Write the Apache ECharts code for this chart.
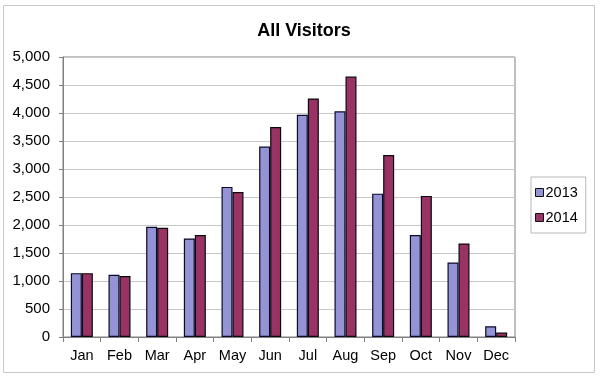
<!DOCTYPE html>
<html>
<head>
<meta charset="utf-8">
<script src="https://cdn.jsdelivr.net/npm/echarts@6/dist/echarts.min.js"></script>
<style>
  html, body { margin: 0; padding: 0; background: #fff; }
  #chart { width: 600px; height: 378px; }
</style>
</head>
<body>
<div id="chart"></div>
<script>
  var months = ['Jan', 'Feb', 'Mar', 'Apr', 'May', 'Jun', 'Jul', 'Aug', 'Sep', 'Oct', 'Nov', 'Dec']
  var visitors2013 = [1140, 1110, 1970, 1760, 2680, 3400, 3970, 4030, 2560, 1820, 1330, 190]
  var visitors2014 = [1140, 1090, 1950, 1820, 2590, 3750, 4260, 4650, 3250, 2520, 1670, 80]
  var yTicks = { min: 0, max: 5000, interval: 500 }

  var font = 'Liberation Sans, Arial, sans-serif'
  var myChart = echarts.init(document.getElementById('chart'))
  myChart.setOption({
    animation: false,
    title: {
      text: 'All Visitors',
      left: 299,
      textAlign: 'center',
      top: 17,
      textStyle: { fontFamily: font, fontSize: 18, fontWeight: 'bold', color: '#000' }
    },
    legend: {
      orient: 'vertical',
      left: 531,
      top: 177,
      padding: [8, 8, 8, 4],
      itemGap: 10,
      itemWidth: 8,
      itemHeight: 8,
      borderColor: '#b8b8b8',
      borderWidth: 1,
      textStyle: { fontFamily: font, fontSize: 14.5, color: '#000', padding: [0, 0, 0, -3] },
      data: [
        { name: '2013', icon: 'rect', itemStyle: { borderColor: '#111', borderWidth: 1 } },
        { name: '2014', icon: 'rect', itemStyle: { borderColor: '#111', borderWidth: 1 } }
      ]
    },
    graphic: [{
      type: 'rect',
      shape: { x: 3.5, y: 5.5, width: 591, height: 367 },
      style: { fill: 'none', stroke: '#c8c8c8', lineWidth: 1 },
      z: -1
    }],
    grid: {
      left: 63,
      right: 85,
      top: 57,
      bottom: 41,
      show: true,
      borderColor: '#808080',
      borderWidth: 1
    },
    xAxis: {
      type: 'category',
      data: months,
      axisLine: { lineStyle: { color: '#808080' } },
      axisTick: { show: true, length: 5, lineStyle: { color: '#808080' } },
      axisLabel: { fontFamily: font, fontSize: 14.5, color: '#000', margin: 11 }
    },
    yAxis: {
      type: 'value',
      min: yTicks.min,
      max: yTicks.max,
      interval: yTicks.interval,
      axisLine: { show: true, lineStyle: { color: '#808080' } },
      axisTick: { show: true, length: 4, lineStyle: { color: '#808080' } },
      splitLine: { lineStyle: { color: '#c8c8c8' } },
      axisLabel: {
        fontFamily: font,
        fontSize: 15,
        color: '#000',
        margin: 13,
        formatter: function (v) { return v.toLocaleString('en-US') }
      }
    },
    series: [{
      name: '2013',
      type: 'bar',
      data: visitors2013,
      barWidth: 11,
      barGap: '0%',
      itemStyle: { color: '#9393d6', borderColor: '#0a0a2a', borderWidth: 1.2 }
    }, {
      name: '2014',
      type: 'bar',
      data: visitors2014,
      barWidth: 11,
      itemStyle: { color: '#993366', borderColor: '#0a0a0a', borderWidth: 1.2 }
    }]
  })
</script>
</body>
</html>
